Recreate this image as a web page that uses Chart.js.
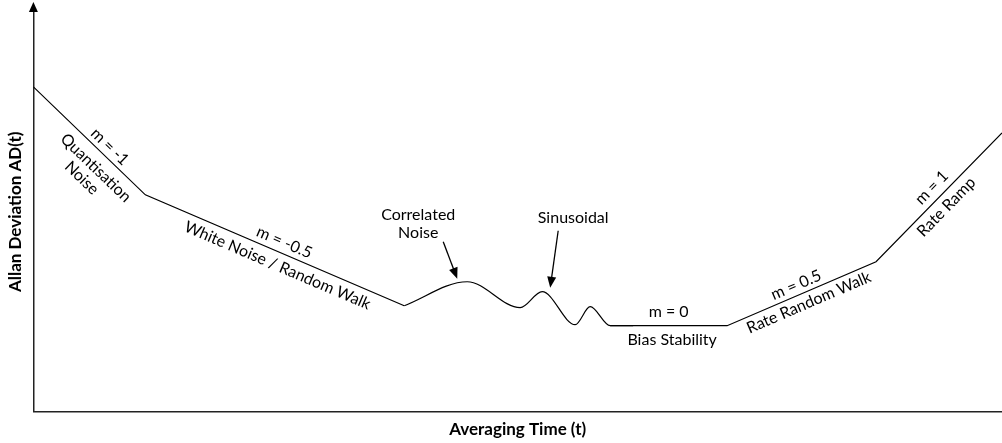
<!DOCTYPE html>
<html>
<head>
<meta charset="utf-8">
<script src="https://cdn.jsdelivr.net/npm/chart.js@4.4.0/dist/chart.umd.min.js"></script>
<style>
html, body { margin: 0; padding: 0; background: #fff; }
</style>
</head>
<body>
<canvas id="allanChart" width="1002" height="443"></canvas>
<script>
// arbitrary units (time to the right, deviation up)
var slopeX = [0, 112, 371];
var slopeY = [325, 217, 106];
var wiggleX = [371, 434, 487, 509, 542, 557, 577, 600];
var wiggleY = [106, 130, 104, 120, 87, 105, 86, 86];
var tailX = [577, 694, 843, 969];
var tailY = [86, 86, 150, 279];

var FONT = "Lato, 'Open Sans', sans-serif";

function toPoints(xs, ys) {
    return xs.map(function (x, i) { return {x: x, y: ys[i]}; });
}

function px(chart, x, y) {
    return {x: chart.scales.x.getPixelForValue(x), y: chart.scales.y.getPixelForValue(y)};
}

// text laid along a segment, off = distance from the line (+ above, - below)
function segLabel(ctx, chart, xs, ys, i, t, off, text) {
    var a = px(chart, xs[i], ys[i]), b = px(chart, xs[i + 1], ys[i + 1]);
    var dx = b.x - a.x, dy = b.y - a.y, len = Math.hypot(dx, dy);
    var ux = dx / len, uy = dy / len;
    ctx.save();
    ctx.translate(a.x + dx * t + uy * off, a.y + dy * t - ux * off);
    ctx.rotate(Math.atan2(dy, dx));
    ctx.textAlign = 'center';
    ctx.textBaseline = 'middle';
    ctx.fillText(text, 0, 0);
    ctx.restore();
}

function arrow(ctx, x0, y0, x1, y1) {
    var ang = Math.atan2(y1 - y0, x1 - x0);
    ctx.beginPath();
    ctx.moveTo(x0, y0);
    ctx.lineTo(x1 - 8 * Math.cos(ang), y1 - 8 * Math.sin(ang));
    ctx.stroke();
    ctx.beginPath();
    ctx.moveTo(x1, y1);
    ctx.lineTo(x1 - 11 * Math.cos(ang) + 4.5 * Math.sin(ang), y1 - 11 * Math.sin(ang) - 4.5 * Math.cos(ang));
    ctx.lineTo(x1 - 11 * Math.cos(ang) - 4.5 * Math.sin(ang), y1 - 11 * Math.sin(ang) + 4.5 * Math.cos(ang));
    ctx.closePath();
    ctx.fill();
}

var notes = {
    id: 'notes',
    afterDraw: function (chart) {
        var ctx = chart.ctx, area = chart.chartArea;
        ctx.save();
        ctx.fillStyle = '#000';
        ctx.strokeStyle = '#000';
        ctx.lineWidth = 1.2;

        // arrow on top of the y axis
        ctx.beginPath();
        ctx.moveTo(area.left, area.top);
        ctx.lineTo(area.left, 8);
        ctx.stroke();
        ctx.beginPath();
        ctx.moveTo(area.left, 2);
        ctx.lineTo(area.left - 4.5, 12);
        ctx.lineTo(area.left + 4.5, 12);
        ctx.closePath();
        ctx.fill();

        ctx.font = '16px ' + FONT;
        segLabel(ctx, chart, slopeX, slopeY, 0, 0.62, 10, 'm = -1');
        segLabel(ctx, chart, slopeX, slopeY, 0, 0.65, -15, 'Quantisation');
        segLabel(ctx, chart, slopeX, slopeY, 0, 0.63, -32, 'Noise');
        segLabel(ctx, chart, slopeX, slopeY, 1, 0.52, 11, 'm = -0.5');
        segLabel(ctx, chart, slopeX, slopeY, 1, 0.53, -13, 'White Noise / Random Walk');
        segLabel(ctx, chart, tailX, tailY, 0, 0.5, 14, 'm = 0');
        segLabel(ctx, chart, tailX, tailY, 0, 0.53, -14, 'Bias Stability');
        segLabel(ctx, chart, tailX, tailY, 1, 0.49, 10, 'm = 0.5');
        segLabel(ctx, chart, tailX, tailY, 1, 0.52, -11, 'Rate Random Walk');
        segLabel(ctx, chart, tailX, tailY, 2, 0.51, 12, 'm = 1');
        segLabel(ctx, chart, tailX, tailY, 2, 0.49, -12, 'Rate Ramp');

        // callouts
        ctx.textAlign = 'center';
        ctx.textBaseline = 'middle';
        var p = px(chart, 385, 197);
        ctx.fillText('Correlated', p.x, p.y);
        p = px(chart, 385, 179);
        ctx.fillText('Noise', p.x, p.y);
        p = px(chart, 540, 194);
        ctx.fillText('Sinusoidal', p.x, p.y);

        ctx.lineWidth = 1.3;
        var a = px(chart, 410, 170), b = px(chart, 424, 133);
        arrow(ctx, a.x, a.y, b.x, b.y);
        a = px(chart, 525, 181); b = px(chart, 517, 124);
        arrow(ctx, a.x, a.y, b.x, b.y);
        ctx.restore();
    }
};

var lineStyle = {
    borderColor: '#000',
    borderWidth: 1.2,
    pointRadius: 0,
    fill: false
};

var ctx = document.getElementById('allanChart').getContext('2d');
var allanChart = new Chart(ctx, {
    type: 'line',
    data: {
        datasets: [
            Object.assign({label: 'slopes', data: toPoints(slopeX, slopeY), tension: 0}, lineStyle),
            Object.assign({label: 'bumps', data: toPoints(wiggleX, wiggleY), cubicInterpolationMode: 'monotone'}, lineStyle),
            Object.assign({label: 'tail', data: toPoints(tailX, tailY), tension: 0}, lineStyle)
        ]
    },
    options: {
        responsive: false,
        animation: false,
        layout: {padding: {left: 5, right: 0, top: 12, bottom: 1}},
        plugins: {
            legend: {display: false},
            tooltip: {enabled: false}
        },
        scales: {
            x: {
                type: 'linear',
                min: 0,
                max: 969,
                grid: {display: false, drawTicks: false},
                border: {color: '#222', width: 1.5},
                ticks: {display: false},
                title: {
                    display: true,
                    text: 'Averaging Time (t)',
                    color: '#000',
                    font: {family: FONT, size: 17, weight: 'bold'},
                    padding: {top: 8, bottom: 2}
                }
            },
            y: {
                type: 'linear',
                min: 0,
                max: 400,
                grid: {display: false, drawTicks: false},
                border: {color: '#222', width: 1.5},
                ticks: {display: false},
                title: {
                    display: true,
                    text: 'Allan Deviation AD(t)',
                    color: '#000',
                    font: {family: FONT, size: 17, weight: 'bold'},
                    padding: {top: 0, bottom: 8}
                }
            }
        }
    },
    plugins: [notes]
});
</script>
</body>
</html>
